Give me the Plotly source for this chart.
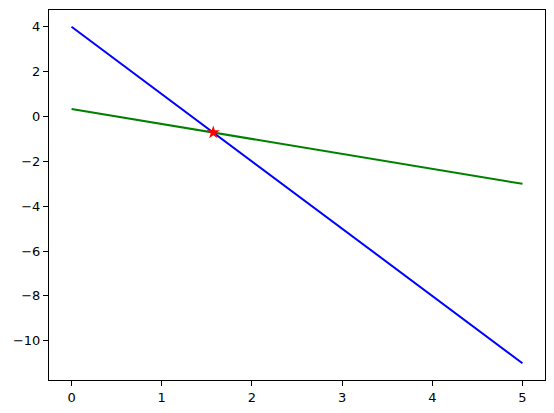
import plotly.graph_objects as go

x_vals = [0, 5]
blue_y = [4, -11]
green_y = [1/3, -3]
ix = [11/7]
iy = [-5/7]
x_ticks = [0, 1, 2, 3, 4, 5]
y_ticks = [4, 2, 0, -2, -4, -6, -8, -10]
y_labels = ["4", "2", "0", "−2", "−4", "−6", "−8", "−10"]

fig = go.Figure()
fig.add_trace(go.Scatter(x=x_vals, y=blue_y, mode="lines", line=dict(color="blue", width=2)))
fig.add_trace(go.Scatter(x=x_vals, y=green_y, mode="lines", line=dict(color="green", width=2)))
fig.add_trace(go.Scatter(x=ix, y=iy, mode="markers", marker=dict(symbol="star", color="red", size=10, line=dict(width=0))))

axis_common = dict(showgrid=False, zeroline=False, showline=True, linecolor="black", linewidth=1,
                   mirror=True, ticks="outside", ticklen=5, tickcolor="black",
                   tickfont=dict(family="DejaVu Sans", size=13, color="black"))
fig.update_layout(
    width=554, height=413,
    margin=dict(l=49, r=9, t=10, b=33, autoexpand=False),
    plot_bgcolor="white", paper_bgcolor="white",
    showlegend=False,
    xaxis=dict(range=[-0.25, 5.25], tickvals=x_ticks, **axis_common),
    yaxis=dict(range=[-11.75, 4.75], tickvals=y_ticks, ticktext=y_labels, **axis_common),
)
fig.write_html("out.html", config={"displayModeBar": False})
with open("out.html", encoding="utf-8") as f:
    html = f.read()
html = html.replace("<head>", "<head><style>html,body{margin:0;padding:0;overflow:hidden;}</style>", 1)
with open("out.html", "w", encoding="utf-8") as f:
    f.write(html)
